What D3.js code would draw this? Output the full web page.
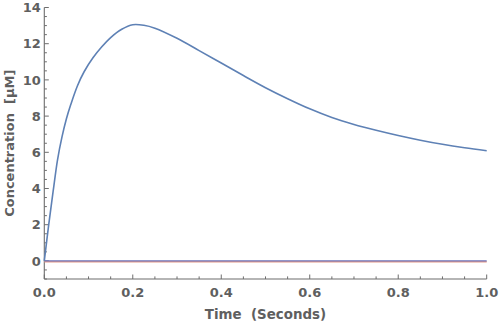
<!DOCTYPE html>
<html>
<head>
<meta charset="utf-8">
<script src="https://cdn.jsdelivr.net/npm/d3@7"></script>
<style>
  html, body { margin: 0; padding: 0; background: #fff; }
  svg { display: block; }
  text { font-family: "DejaVu Sans", sans-serif; font-weight: bold; fill: #5f5f5f; white-space: pre; }
</style>
</head>
<body>
<script>
// Time samples (seconds) and concentration of the reacting species (µM)
const time = [0, 0.01, 0.02, 0.03, 0.04, 0.05, 0.06, 0.075, 0.09, 0.11, 0.13, 0.15, 0.175, 0.2,
  0.225, 0.25, 0.3, 0.35, 0.4, 0.45, 0.5, 0.55, 0.6, 0.65, 0.7, 0.75, 0.8, 0.85, 0.9, 0.95, 1.0];
const concentration = [0, 2.0, 3.85, 5.6, 6.85, 7.85, 8.65, 9.68, 10.45, 11.22, 11.83, 12.34, 12.8, 13.05,
  13.02, 12.86, 12.3, 11.62, 10.93, 10.24, 9.57, 8.96, 8.4, 7.92, 7.54, 7.22, 6.93, 6.67, 6.44, 6.25, 6.09];
// Species that stay at zero over the whole run
const flatTime = [0, 1];
const flatLow = [-0.05, -0.05];
const flatZero = [0, 0];

const xTicks = [0, 0.2, 0.4, 0.6, 0.8, 1.0];
const yTicks = [0, 2, 4, 6, 8, 10, 12, 14];
const xLabel = "Time  (Seconds)";
const yLabel = "Concentration  [\u03bcM]";

const W = 500, H = 324;
const x = d3.scaleLinear().domain([0, 1]).range([44.3, 486.7]);
const y = d3.scaleLinear().domain([-1, 14]).range([279, 7.5]);

const svg = d3.select("body").append("svg").attr("width", W).attr("height", H);

const axisColor = "#6d6d6d";

// x axis
const gx = svg.append("g").attr("transform", `translate(0,${y(-1)})`);
gx.append("line").attr("x1", x(0)).attr("x2", x(1)).attr("stroke", axisColor).attr("stroke-width", 1.1);
const xMinor = d3.range(0, 1.0001, 0.05);
gx.selectAll("line.tick").data(xMinor).join("line")
  .attr("class", "tick")
  .attr("x1", d => x(d)).attr("x2", d => x(d))
  .attr("y1", 0).attr("y2", d => Math.abs(d * 5 - Math.round(d * 5)) < 1e-6 ? -4.5 : -2.6)
  .attr("stroke", axisColor).attr("stroke-width", 1);
gx.selectAll("text").data(xTicks).join("text")
  .attr("x", d => x(d)).attr("y", 17.5)
  .attr("text-anchor", "middle").attr("font-size", 13)
  .text(d => d3.format(".1f")(d));

// y axis
const gy = svg.append("g").attr("transform", `translate(${x(0)},0)`);
gy.append("line").attr("y1", y(-1)).attr("y2", y(14)).attr("stroke", axisColor).attr("stroke-width", 1.1);
const yMinor = d3.range(-1, 14.0001, 0.5);
gy.selectAll("line.tick").data(yMinor).join("line")
  .attr("class", "tick")
  .attr("y1", d => y(d)).attr("y2", d => y(d))
  .attr("x1", 0).attr("x2", d => (Math.round(d) === d && d % 2 === 0) ? 4.5 : 2.6)
  .attr("stroke", axisColor).attr("stroke-width", 1);
gy.selectAll("text").data(yTicks).join("text")
  .attr("x", -3.5).attr("y", d => y(d)).attr("dy", "0.36em")
  .attr("text-anchor", "end").attr("font-size", 13)
  .text(d => d);

// axis titles
svg.append("text").attr("x", (x(0) + x(1)) / 2).attr("y", 319)
  .attr("text-anchor", "middle").attr("font-size", 13.4).text(xLabel);
svg.append("text").attr("transform", `translate(14,${(y(-1) + y(14)) / 2}) rotate(-90)`)
  .attr("text-anchor", "middle").attr("font-size", 13).text(yLabel);

// curves
const line = d3.line().x(d => x(d[0])).y(d => y(d[1]));
svg.append("path").datum(d3.zip(flatTime, flatLow))
  .attr("d", line).attr("fill", "none").attr("stroke", "#e59a8a").attr("stroke-width", 1.6);
svg.append("path").datum(d3.zip(flatTime, flatZero))
  .attr("d", line).attr("fill", "none").attr("stroke", "#6c72b8").attr("stroke-width", 1.3);
svg.append("path").datum(d3.zip(time, concentration))
  .attr("d", line.curve(d3.curveCatmullRom.alpha(0.5))).attr("fill", "none")
  .attr("stroke", "#5e81b5").attr("stroke-width", 1.6);
</script>
</body>
</html>
